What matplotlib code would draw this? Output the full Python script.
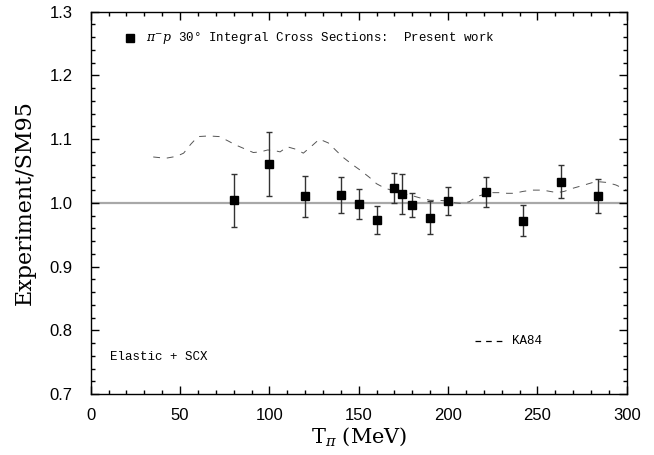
import numpy as np
import matplotlib
matplotlib.use("Agg")
import matplotlib.pyplot as plt
from matplotlib.ticker import MultipleLocator

# pi- p 30 deg integral cross sections, ratio to SM95
t_pi = [80, 100, 120, 140, 150, 160, 170, 174, 180, 190, 200, 221, 242, 263, 284]
ratio = [1.004, 1.061, 1.010, 1.012, 0.998, 0.973, 1.023, 1.014, 0.997, 0.977,
         1.003, 1.017, 0.972, 1.033, 1.011]
err = [0.042, 0.050, 0.032, 0.028, 0.023, 0.022, 0.024, 0.031, 0.019, 0.026,
       0.022, 0.023, 0.024, 0.026, 0.027]

# KA84 curve
ka84_t = [35, 42, 48, 52, 56, 60, 66, 72, 77, 81, 86, 91, 95, 99, 103, 106, 110,
          115, 119, 124, 128, 133, 137, 141, 146, 151, 156, 160, 164, 168, 173,
          179, 184, 190, 195, 199, 204, 208, 212, 216, 220, 225, 229, 233, 237,
          242, 247, 253, 257, 261, 265, 270, 275, 281, 285, 289, 294, 300]
ka84_r = [1.072, 1.070, 1.073, 1.078, 1.092, 1.104, 1.105, 1.104, 1.097, 1.091,
          1.085, 1.079, 1.080, 1.083, 1.082, 1.080, 1.088, 1.084, 1.078, 1.090,
          1.100, 1.094, 1.083, 1.072, 1.061, 1.051, 1.040, 1.030, 1.024, 1.020,
          1.016, 1.012, 1.008, 1.004, 1.004, 1.003, 1.000, 0.999, 1.002, 1.010,
          1.013, 1.016, 1.016, 1.015, 1.015, 1.018, 1.020, 1.020, 1.018, 1.016,
          1.018, 1.023, 1.027, 1.032, 1.033, 1.032, 1.028, 1.020]

plt.rcParams["mathtext.fontset"] = "dejavuserif"
SANS = "Liberation Sans"
SERIF = "DejaVu Serif"
MONO = "Liberation Mono"

fig = plt.figure(figsize=(6.54, 4.55), dpi=100)
ax = fig.add_axes([0.1387, 0.134, 0.8196, 0.8403])

ax.axhline(1.0, color="#a8a8a8", linewidth=1.6, zorder=1)
ax.plot(ka84_t, ka84_r, color="#555555", linewidth=0.7, dashes=(7, 7), zorder=2)
ax.errorbar(t_pi, ratio, yerr=err, fmt="s", color="black", markersize=6,
            ecolor="#333333", elinewidth=1.0, capsize=2.2, capthick=1.0, zorder=3)

ax.set_xlim(0, 300)
ax.set_ylim(0.7, 1.3)
ax.xaxis.set_major_locator(MultipleLocator(50))
ax.xaxis.set_minor_locator(MultipleLocator(10))
ax.yaxis.set_major_locator(MultipleLocator(0.1))
ax.yaxis.set_minor_locator(MultipleLocator(0.02))
ax.yaxis.set_major_formatter(plt.FuncFormatter(lambda v, _: f"{v:.1f}"))
ax.tick_params(which="both", direction="in", top=True, right=True, width=1.0)
ax.tick_params(which="major", length=5.8)
ax.tick_params(which="minor", length=2.9)
ax.tick_params(axis="x", pad=10)
ax.tick_params(axis="y", pad=13)
for lab in ax.get_xticklabels() + ax.get_yticklabels():
    lab.set_fontfamily(SANS)
    lab.set_fontsize(12)
for sp in ax.spines.values():
    sp.set_linewidth(1.0)

ax.set_ylabel("Experiment/SM95", fontfamily=SERIF, fontsize=16, labelpad=10)
ax.set_xlabel(r"T$_{\pi}$ (MeV)", fontfamily=SERIF, fontsize=15, labelpad=2)

# in-plot annotations
ax.plot([22], [1.259], "s", color="black", markersize=6)
ax.text(31, 1.259, r"$\pi^{-}p$ 30° Integral Cross Sections:  Present work",
        fontfamily=MONO, fontsize=9, va="center", ha="left")
ax.plot([215, 230], [0.783, 0.783], color="black", linewidth=0.9, dashes=(4.5, 4))
ax.text(236, 0.783, "KA84", fontfamily=MONO, fontsize=9, va="center", ha="left")
ax.text(11, 0.758, "Elastic + SCX", fontfamily=MONO, fontsize=9, va="center", ha="left")

fig.savefig("out.png", dpi=100)
